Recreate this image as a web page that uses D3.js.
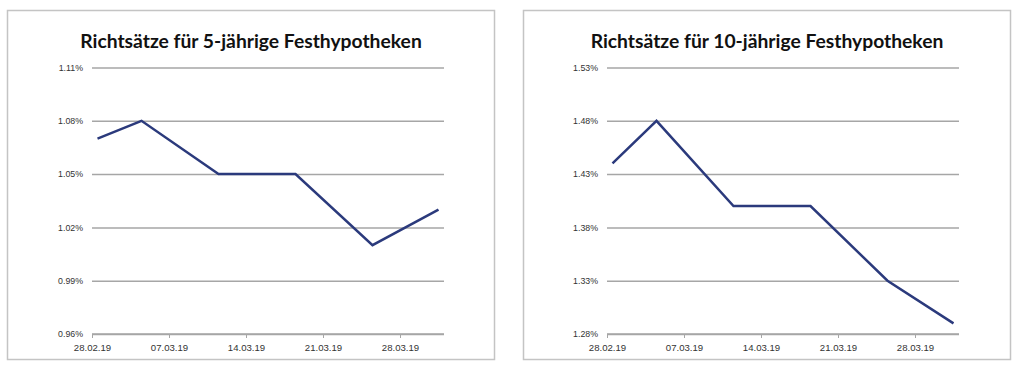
<!DOCTYPE html>
<html lang="de">

<head>
    <meta charset="UTF-8">
    <title>Richtsätze Festhypotheken</title>
    <script src="https://d3js.org/d3.v7.min.js"></script>
    <style>
        body {
            margin: 0;
            background: #fff;
        }

        svg {
            font-family: Lato, "Open Sans", sans-serif;
        }
    </style>
</head>

<body>
    <script>
        // data
        const dates = ['28.02.19', '04.03.19', '11.03.19', '18.03.19', '25.03.19', '31.03.19'];
        const rates5 = [1.07, 1.08, 1.05, 1.05, 1.01, 1.03];
        const rates10 = [1.44, 1.48, 1.40, 1.40, 1.33, 1.29];
        const ticks5 = [0.96, 0.99, 1.02, 1.05, 1.08, 1.11];
        const ticks10 = [1.28, 1.33, 1.38, 1.43, 1.48, 1.53];
        const xTicks = ['28.02.19', '07.03.19', '14.03.19', '21.03.19', '28.03.19'];
        const xStart = '28.02.19', xEnd = '01.04.19';

        const parse = d3.timeParse('%d.%m.%y');
        const fmt = d3.timeFormat('%d.%m.%y');

        const svg = d3.select('body').append('svg')
            .attr('width', 1024)
            .attr('height', 376);

        function drawChart(opts) {
            const { left, panelW, plotL, plotR, title, values, ticks } = opts;
            const top = 67.5, bottom = 334;

            const g = svg.append('g');

            // panel frame
            g.append('rect')
                .attr('x', left).attr('y', 10.5)
                .attr('width', panelW).attr('height', 349)
                .attr('fill', '#fff')
                .attr('stroke', '#c4c4c4')
                .attr('stroke-width', 1.5);

            g.append('text')
                .attr('x', left + panelW / 2)
                .attr('y', 48)
                .attr('text-anchor', 'middle')
                .style('font-size', '19.3px')
                .style('font-weight', 'bold')
                .attr('fill', '#111')
                .text(title);

            const x = d3.scaleTime()
                .domain([parse(xStart), parse(xEnd)])
                .range([plotL, plotR]);

            const y = d3.scaleLinear()
                .domain([ticks[0], ticks[ticks.length - 1]])
                .range([bottom, top]);

            // horizontal gridlines
            const yAxis = g.append('g')
                .attr('transform', `translate(${plotL},0)`)
                .call(d3.axisLeft(y)
                    .tickValues(ticks)
                    .tickSize(-(plotR - plotL))
                    .tickPadding(9)
                    .tickFormat(d => d.toFixed(2) + '%'));
            yAxis.select('.domain').remove();
            yAxis.selectAll('line')
                .attr('stroke', '#a6a6a6')
                .attr('stroke-width', 1.5);
            yAxis.selectAll('text')
                .attr('fill', '#333')
                .style('font-size', '8.8px');

            // x axis
            const xAxis = g.append('g')
                .attr('transform', `translate(0,${bottom})`)
                .call(d3.axisBottom(x)
                    .tickValues(xTicks.map(parse))
                    .tickSize(4)
                    .tickPadding(6)
                    .tickFormat(fmt));
            xAxis.select('.domain')
                .attr('stroke', '#a6a6a6')
                .attr('stroke-width', 1.5)
                .attr('d', `M${plotL},0H${plotR}`);
            xAxis.selectAll('line').attr('stroke', '#a6a6a6');
            xAxis.selectAll('text')
                .attr('fill', '#333')
                .style('font-size', '9.6px');

            // points sit in the middle of their day (Excel date axis)
            const pts = dates.map((d, i) => ({ date: d3.timeHour.offset(parse(d), 12), v: values[i] }));

            const line = d3.line()
                .x(d => x(d.date))
                .y(d => y(d.v));

            g.append('path')
                .datum(pts)
                .attr('fill', 'none')
                .attr('stroke', '#2b3a7c')
                .attr('stroke-width', 2.5)
                .attr('d', line);
        }

        drawChart({
            left: 7.5, panelW: 487, plotL: 92, plotR: 444,
            title: 'Richtsätze für 5-jährige Festhypotheken',
            values: rates5, ticks: ticks5
        });

        drawChart({
            left: 523.5, panelW: 487, plotL: 607, plotR: 959,
            title: 'Richtsätze für 10-jährige Festhypotheken',
            values: rates10, ticks: ticks10
        });
    </script>
</body>

</html>
